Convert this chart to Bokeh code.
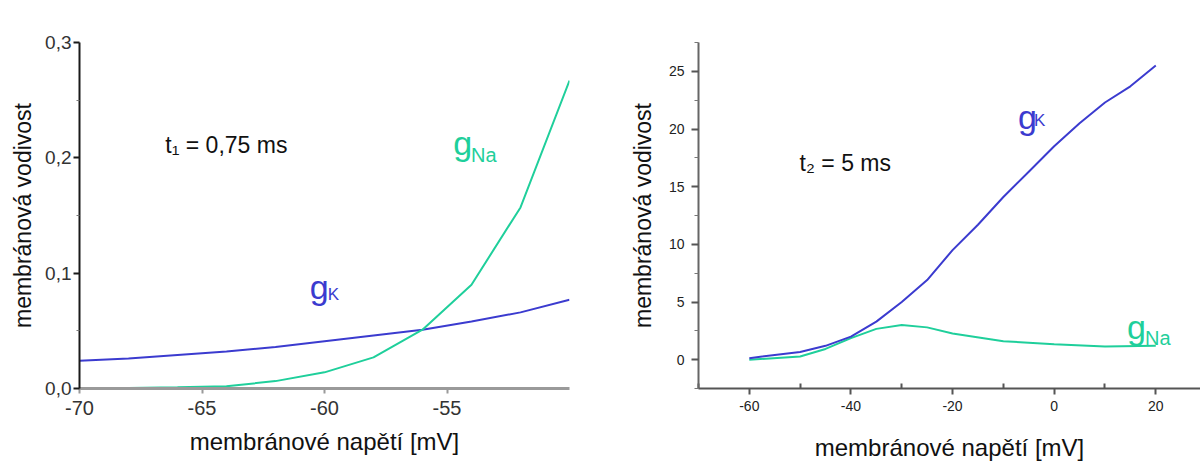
from bokeh.plotting import figure
from bokeh.layouts import row
from bokeh.models import Range1d, FixedTicker, CustomJSTickFormatter, Label
from bokeh.embed import file_html
from bokeh.resources import INLINE

# ---------------- data ----------------
# left panel: t1 = 0,75 ms
v_left = [-70, -68, -66, -64, -62, -60, -58, -56, -54, -52, -50]
gK_left = [0.024, 0.026, 0.029, 0.032, 0.036, 0.041, 0.046, 0.051, 0.058, 0.066, 0.077]
gNa_left = [0.0, 0.0005, 0.001, 0.002, 0.0064, 0.014, 0.027, 0.051, 0.090, 0.157, 0.267]

# right panel: t2 = 5 ms
v_right_K = [-60, -50, -45, -40, -35, -30, -25, -20, -15, -10, -5, 0, 5, 10, 15, 20]
gK_right = [0.13, 0.67, 1.2, 2.0, 3.3, 5.0, 6.9, 9.5, 11.7, 14.1, 16.3, 18.5, 20.5, 22.3, 23.7, 25.5]
v_right_Na = [-60, -50, -45, -40, -35, -30, -25, -20, -10, 0, 10, 20]
gNa_right = [0.0, 0.27, 0.93, 1.87, 2.67, 3.0, 2.8, 2.27, 1.6, 1.33, 1.15, 1.2]

x_ticks_left = [-70, -65, -60, -55]
y_ticks_left = [0.0, 0.1, 0.2, 0.3]
y_minor_left = [0.05, 0.15, 0.25]
x_ticks_right = [-60, -40, -20, 0, 20]
x_minor_right = [-70, -50, -30, -10, 10]
y_ticks_right = [0, 5, 10, 15, 20, 25]
y_minor_right = [-2.5, 2.5, 7.5, 12.5, 17.5, 22.5, 27.5]

x_title = "membránové napětí [mV]"
y_title = "membránová vodivost"

# ---------------- styles ----------------
FONT = "Liberation Sans"
BLUE = "#3b3bcf"
GREEN = "#1fcf9b"

INT_FMT = CustomJSTickFormatter(code="return tick.toFixed(0);")
COMMA_FMT = CustomJSTickFormatter(code="return tick.toFixed(1).replace('.', ',');")


def base_fig(**kw):
    p = figure(output_backend="svg", toolbar_location=None, **kw)
    p.xgrid.visible = False
    p.ygrid.visible = False
    p.outline_line_color = None
    p.background_fill_color = "white"
    p.border_fill_color = "white"
    for ax in (p.xaxis[0], p.yaxis[0]):
        ax.axis_label_text_font = FONT
        ax.axis_label_text_font_style = "normal"
        ax.axis_label_text_color = "#111111"
        ax.major_label_text_font = FONT
        ax.major_tick_in = 0
        ax.minor_tick_in = 0
    p.xaxis[0].axis_label_text_font_size = "24px"
    p.yaxis[0].axis_label_text_font_size = "23px"
    return p


# ---------------- left figure ----------------
p1 = base_fig(width=608, height=463,
              x_range=Range1d(-70, -50), y_range=Range1d(0, 0.3),
              min_border_left=79, min_border_right=39,
              min_border_top=42, min_border_bottom=73)

p1.line(v_left, gK_left, line_color=BLUE, line_width=2)
p1.line(v_left, gNa_left, line_color=GREEN, line_width=2)

xa = p1.xaxis[0]
xa.ticker = FixedTicker(ticks=x_ticks_left)
xa.formatter = INT_FMT
xa.axis_label = x_title
xa.axis_line_color = "#9a9a9a"
xa.axis_line_width = 3
xa.major_tick_line_color = "#9a9a9a"
xa.major_tick_line_width = 2
xa.major_tick_out = 5
xa.minor_tick_out = 0
xa.major_label_text_font_size = "20px"
xa.major_label_text_color = "#333333"
xa.major_label_standoff = 7
xa.axis_label_standoff = 10

ya = p1.yaxis[0]
ya.ticker = FixedTicker(ticks=y_ticks_left, minor_ticks=y_minor_left)
ya.formatter = COMMA_FMT
ya.axis_label = y_title
ya.axis_line_color = "#1a1a1a"
ya.axis_line_width = 2
ya.major_tick_line_color = "#1a1a1a"
ya.major_tick_line_width = 2
ya.minor_tick_line_color = "#777777"
ya.major_tick_out = 6
ya.minor_tick_out = 3
ya.major_label_text_font_size = "19px"
ya.major_label_text_color = "#333333"
ya.major_label_standoff = 2
ya.axis_label_standoff = 6

p1.add_layout(Label(x=-66.5, y=0.211, text="t\u2081 = 0,75 ms", text_font=FONT,
                    text_font_size="23px", text_color="#111111", text_baseline="alphabetic"))
p1.add_layout(Label(x=-54.75, y=0.2127, text="g", text_font=FONT,
                    text_font_size="34px", text_color=GREEN, text_baseline="alphabetic"))
p1.add_layout(Label(x=-54.02, y=0.2024, text="Na", text_font=FONT,
                    text_font_size="20px", text_color=GREEN, text_baseline="alphabetic"))
p1.add_layout(Label(x=-60.6, y=0.0879, text="g", text_font=FONT,
                    text_font_size="34px", text_color=BLUE, text_baseline="alphabetic"))
p1.add_layout(Label(x=-59.87, y=0.0818, text="K", text_font=FONT,
                    text_font_size="17px", text_color=BLUE, text_baseline="alphabetic"))

# ---------------- right figure ----------------
p2 = base_fig(width=592, height=463,
              x_range=Range1d(-70, 28.8), y_range=Range1d(-2.5, 27.5),
              min_border_left=90, min_border_right=0,
              min_border_top=13, min_border_bottom=75)

p2.line(v_right_Na, gNa_right, line_color=GREEN, line_width=2)
p2.line(v_right_K, gK_right, line_color=BLUE, line_width=2)

xb = p2.xaxis[0]
xb.ticker = FixedTicker(ticks=x_ticks_right, minor_ticks=x_minor_right)
xb.formatter = INT_FMT
xb.axis_label = x_title
xb.axis_line_color = "#555555"
xb.axis_line_width = 2
xb.major_tick_line_color = "#555555"
xb.minor_tick_line_color = "#555555"
xb.major_tick_line_width = 2
xb.minor_tick_line_width = 2
xb.major_tick_out = 6
xb.minor_tick_out = 0
xb.minor_tick_in = 5
xb.major_label_text_font_size = "14px"
xb.major_label_text_color = "#222222"
xb.major_label_standoff = 6
xb.axis_label_standoff = 20

yb = p2.yaxis[0]
yb.ticker = FixedTicker(ticks=y_ticks_right, minor_ticks=y_minor_right)
yb.formatter = INT_FMT
yb.axis_label = y_title
yb.axis_line_color = "#666666"
yb.axis_line_width = 2
yb.major_tick_line_color = "#555555"
yb.minor_tick_line_color = "#777777"
yb.major_tick_line_width = 2
yb.major_tick_out = 7
yb.minor_tick_out = 4
yb.major_label_text_font_size = "14px"
yb.major_label_text_color = "#222222"
yb.major_label_standoff = 7
yb.axis_label_standoff = 10

p2.add_layout(Label(x=-50.1, y=17.08, text="t\u2082 = 5 ms", text_font=FONT,
                    text_font_size="23px", text_color="#111111", text_baseline="alphabetic"))
p2.add_layout(Label(x=-7.1, y=21.08, text="g", text_font=FONT,
                    text_font_size="34px", text_color=BLUE, text_baseline="alphabetic"))
p2.add_layout(Label(x=-3.95, y=20.78, text="K", text_font=FONT,
                    text_font_size="17px", text_color=BLUE, text_baseline="alphabetic"))
p2.add_layout(Label(x=14.35, y=2.80, text="g", text_font=FONT,
                    text_font_size="34px", text_color=GREEN, text_baseline="alphabetic"))
p2.add_layout(Label(x=17.9, y=1.87, text="Na", text_font=FONT,
                    text_font_size="20px", text_color=GREEN, text_baseline="alphabetic"))

layout = row(p1, p2, spacing=0)
open("out.html", "w").write(file_html(layout, INLINE))
